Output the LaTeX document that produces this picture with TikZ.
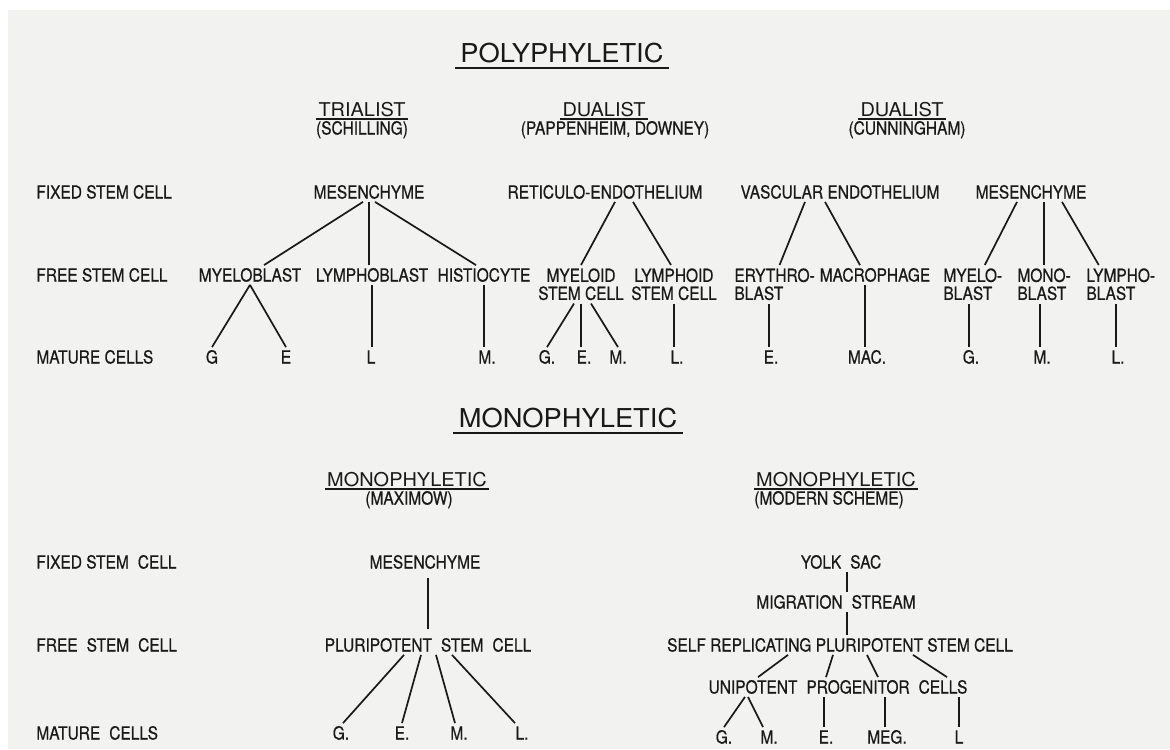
\documentclass[tikz,border=0pt]{standalone}
\usepackage{fontspec}
\usepackage{xcolor}
\setmainfont{TeX Gyre Heros}[FakeStretch=0.86,FakeBold=0.6]
\newfontfamily\widefont{TeX Gyre Heros}[FakeStretch=1.05]
\definecolor{ink}{RGB}{25,25,25}
\definecolor{paper}{RGB}{242,242,240}

\begin{document}
\begin{tikzpicture}[x=0.5pt,y=-0.5pt,
  lbl/.style={text=ink,font=\fontsize{9}{9}\selectfont,inner sep=1.5pt,text height=6.5pt,text depth=0pt},
  stack/.style={text=ink,font=\fontsize{9}{9}\selectfont,inner sep=1.5pt,align=#1},
  head/.style={text=ink,font=\widefont\fontsize{9.5}{10}\selectfont,inner sep=1pt,text height=6.8pt,text depth=0pt},
  title/.style={text=ink,font=\widefont\fontsize{13}{14}\selectfont,inner sep=2.5pt,text height=9.3pt,text depth=0pt},
  link/.style={draw=ink,line width=0.85pt}]
\def\yfix{192}
\def\yfree{275}
\def\ymat{357}
\def\yfixb{562}
\def\yfreeb{645}
\def\ymatb{733}
  \useasboundingbox (0,0) rectangle (1170,749);
  \fill[white] (0,0) rectangle (1170,749);
  \fill[paper] (8,10) rectangle (1170,749);

  % row names
  \foreach \y/\t [count=\i] in {\yfix/FIXED STEM CELL, \yfree/FREE STEM CELL, \ymat/MATURE CELLS,
      \yfixb/FIXED STEM\enspace CELL, \yfreeb/FREE\enspace STEM\enspace CELL, \ymatb/MATURE\enspace CELLS} {
    \node[lbl,anchor=west] (row\i) at (33,\y) {\t};
  }

  % titles
  \node[title] (poly) at (562,53) {POLYPHYLETIC};
  \draw[link] (poly.south west) -- (poly.south east);
  \node[title] (monoT) at (568,418) {MONOPHYLETIC};
  \draw[link] (monoT.south west) -- (monoT.south east);

  % trialist
  \node[head] (trial) at (362,110) {TRIALIST};
  \draw[link] (trial.south west) -- (trial.south east);
  \node[lbl] (schil) at (362,128) {(SCHILLING)};
  \node[lbl] (mesA) at (369,\yfix) {MESENCHYME};
  \node[lbl] (mybA) at (250,\yfree) {MYELOBLAST};
  \node[lbl] (lybA) at (372,\yfree) {LYMPHOBLAST};
  \node[lbl] (hisA) at (484,\yfree) {HISTIOCYTE};
  \node[lbl] (gA) at (212,\ymat) {G};
  \node[lbl] (eA) at (286,\ymat) {E};
  \node[lbl] (lA) at (371,\ymat) {L};
  \node[lbl] (mA) at (487,\ymat) {M.};
  \draw[link] ([xshift=-3pt]mesA.south) -- ([xshift=7pt]mybA.north);
  \draw[link] (mesA.south) -- (mesA.south |- lybA.north);
  \draw[link] ([xshift=3pt]mesA.south) -- ([xshift=-4pt]hisA.north);
  \draw[link] (mybA.south) -- (gA.north);
  \draw[link] (mybA.south) -- (eA.north);
  \draw[link] (lybA.south) -- (lybA.south |- lA.north);
  \draw[link] (hisA.south) -- (hisA.south |- mA.north);

  % dualist, pappenheim
  \node[head] (dualA) at (604,110) {DUALIST};
  \draw[link] (dualA.south west) -- (dualA.south east);
  \node[lbl] (papp) at (615,128) {(PAPPENHEIM, DOWNEY)};
  \node[lbl] (reti) at (605,\yfix) {RETICULO-ENDOTHELIUM};
  \node[stack=center,anchor=north] (myel) at (581,265) {MYELOID\\STEM CELL};
  \node[stack=center,anchor=north] (lymd) at (674,265) {LYMPHOID\\STEM CELL};
  \node[lbl] (gB) at (547,\ymat) {G.};
  \node[lbl] (eB) at (584,\ymat) {E.};
  \node[lbl] (mB) at (618,\ymat) {M.};
  \node[lbl] (lB) at (677,\ymat) {L.};
  \draw[link] ([xshift=5pt]reti.south) -- (myel.north);
  \draw[link] ([xshift=14pt]reti.south) -- ([xshift=-1.5pt]lymd.north);
  \draw[link] ([xshift=-3.5pt]myel.south) -- (gB.north);
  \draw[link] (myel.south) -- (myel.south |- eB.north);
  \draw[link] ([xshift=5pt]myel.south) -- (mB.north);
  \draw[link] (lymd.south) -- (lymd.south |- lB.north);

  % dualist, cunningham
  \node[head] (dualB) at (902,110) {DUALIST};
  \draw[link] (dualB.south west) -- (dualB.south east);
  \node[lbl] (cunn) at (907,128) {(CUNNINGHAM)};
  \node[lbl] (vasc) at (840,\yfix) {VASCULAR ENDOTHELIUM};
  \node[lbl] (mesC) at (1031,\yfix) {MESENCHYME};
  \node[stack=left,anchor=north west] (ery) at (731,265) {ERYTHRO-\\BLAST};
  \node[lbl] (mac) at (875,\yfree) {MACROPHAGE};
  \node[stack=left,anchor=north west] (myelo) at (940,265) {MYELO-\\BLAST};
  \node[stack=left,anchor=north west] (monob) at (1014,265) {MONO-\\BLAST};
  \node[stack=left,anchor=north west] (lympho) at (1083,265) {LYMPHO-\\BLAST};
  \node[lbl] (eC) at (771,\ymat) {E.};
  \node[lbl] (macC) at (867,\ymat) {MAC.};
  \node[lbl] (gC) at (971,\ymat) {G.};
  \node[lbl] (mC) at (1042,\ymat) {M.};
  \node[lbl] (lC) at (1118,\ymat) {L.};
  \draw[link] ([xshift=-17.5pt]vasc.south) -- ([xshift=2.5pt]ery.north);
  \draw[link] ([xshift=-7.5pt]vasc.south) -- ([xshift=-7.5pt]mac.north);
  \draw[link] ([xshift=-7pt]mesC.south) -- ([xshift=6pt]myelo.north);
  \draw[link] (monob.north |- mesC.south) -- (monob.north);
  \draw[link] ([xshift=15.5pt]mesC.south) -- ([xshift=-11pt]lympho.north);
  \draw[link] ([xshift=-1pt]eC.north) -- ([xshift=-1pt]eC.north |- ery.south);
  \draw[link] ([xshift=-1pt]macC.north) -- ([xshift=-1pt]macC.north |- mac.south);
  \draw[link] ([xshift=-1pt]gC.north) -- ([xshift=-1pt]gC.north |- myelo.south);
  \draw[link] ([xshift=-1pt]mC.north) -- ([xshift=-1pt]mC.north |- monob.south);
  \draw[link] ([xshift=-1pt]lC.north) -- ([xshift=-1pt]lC.north |- lympho.south);

  % monophyletic, maximow
  \node[head] (maxh) at (407,480) {MONOPHYLETIC};
  \draw[link] (maxh.south west) -- (maxh.south east);
  \node[lbl] (maxi) at (409,498) {(MAXIMOW)};
  \node[lbl] (mesM) at (425,\yfixb) {MESENCHYME};
  \node[lbl] (pluM) at (428,\yfreeb) {PLURIPOTENT\enspace STEM\enspace CELL};
  \node[lbl] (gM) at (341,\ymatb) {G.};
  \node[lbl] (eM) at (402,\ymatb) {E.};
  \node[lbl] (mM) at (459,\ymatb) {M.};
  \node[lbl] (lM) at (522,\ymatb) {L.};
  \draw[link,shorten <=3pt,shorten >=3pt] (pluM.north |- mesM.south) -- (pluM.north);
  \draw[link] ([xshift=-12pt]pluM.south) -- ([xshift=1pt]gM.north);
  \draw[link] ([xshift=-3.5pt]pluM.south) -- (eM.north);
  \draw[link] ([xshift=4pt]pluM.south) -- ([xshift=-2pt]mM.north);
  \draw[link] ([xshift=12pt]pluM.south) -- ([xshift=-3.5pt]lM.north);

  % monophyletic, modern scheme
  \node[head] (modh) at (836,480) {MONOPHYLETIC};
  \draw[link] (modh.south west) -- (modh.south east);
  \node[lbl] (modern) at (829,498) {(MODERN SCHEME)};
  \node[lbl] (yolk) at (841,\yfixb) {YOLK\enspace SAC};
  \node[lbl] (migr) at (836,602) {MIGRATION\enspace STREAM};
  \node[lbl] (self) at (840,\yfreeb) {SELF REPLICATING PLURIPOTENT STEM CELL};
  \node[lbl] (unip) at (838,687) {UNIPOTENT\enspace PROGENITOR\enspace CELLS};
  \node[lbl] (gD) at (724,737) {G.};
  \node[lbl] (mD) at (769,737) {M.};
  \node[lbl] (eD) at (826,737) {E.};
  \node[lbl] (megD) at (887,737) {MEG.};
  \node[lbl] (lD) at (959,737) {L};
  \draw[link] ([xshift=3pt]yolk.south) -- ([xshift=3pt]yolk.south |- migr.north);
  \draw[link] ([xshift=5.5pt]migr.south) -- ([xshift=5.5pt]migr.south |- self.north);
  \draw[link] ([xshift=-26pt]self.south) -- ([xshift=-40pt]unip.north);
  \draw[link] ([xshift=-3.5pt]self.south) -- ([xshift=-6pt]unip.north);
  \draw[link] ([xshift=13.5pt]self.south) -- ([xshift=20pt]unip.north);
  \draw[link] ([xshift=36.5pt]self.south) -- ([xshift=54.5pt]unip.north);
  \draw[link] ([xshift=-46.5pt]unip.south) -- (gD.north);
  \draw[link] ([xshift=-45pt]unip.south) -- ([xshift=-3pt]mD.north);
  \draw[link] ([xshift=-1pt]eD.north) -- ([xshift=-1pt]eD.north |- unip.south);
  \draw[link] ([xshift=-1pt]megD.north) -- ([xshift=-1pt]megD.north |- unip.south);
  \draw[link] (lD.north) -- (lD.north |- unip.south);
\end{tikzpicture}
\end{document}
